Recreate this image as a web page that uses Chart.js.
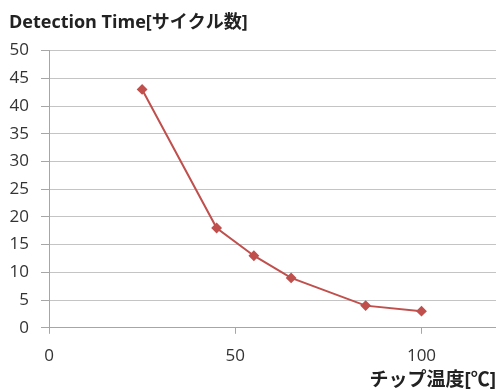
<!DOCTYPE html>
<html>
<head>
<meta charset="utf-8">
<script src="https://cdn.jsdelivr.net/npm/chart.js@4"></script>
<style>
  body { margin: 0; background: #fff; }
  #wrap { width: 496px; height: 390px; }
</style>
</head>
<body>
<div id="wrap"><canvas id="plot" width="496" height="390"></canvas></div>
<script>
const temps = [25, 45, 55, 65, 85, 100];
const cycles = [43, 18, 13, 9, 4, 3];
const titleText = "Detection Time[サイクル数]";
const xTitleText = "チップ温度[℃]";

const fontStack = "'Open Sans', 'Noto Sans CJK JP', sans-serif";

new Chart(document.getElementById("plot"), {
    type: "line",
    data: {
        datasets: [
            {
                data: temps.map((t, i) => ({ x: t, y: cycles[i] })),
                borderColor: "#c0504d",
                backgroundColor: "#c0504d",
                borderWidth: 2,
                pointStyle: "rectRot",
                pointRadius: 4,
                pointHoverRadius: 4,
                fill: false,
                tension: 0
            }
        ]
    },
    options: {
        responsive: false,
        animation: false,
        layout: { autoPadding: false, padding: { left: 9, right: 0, top: 6, bottom: 0 } },
        plugins: {
            legend: { display: false },
            tooltip: { enabled: false },
            title: {
                display: true,
                text: titleText,
                align: "start",
                color: "#222",
                font: { family: fontStack, size: 18, weight: "bold" },
                padding: { top: 6, bottom: 17 }
            }
        },
        scales: {
            x: {
                type: "linear",
                min: 0,
                max: 120,
                border: { color: "#a6a6a6", width: 1 },
                grid: { drawOnChartArea: false, drawTicks: true, tickLength: 6, color: "#a6a6a6" },
                ticks: {
                    stepSize: 50,
                    includeBounds: false,
                    color: "#333",
                    padding: 12,
                    font: { family: fontStack, size: 17 }
                },
                title: {
                    display: true,
                    text: xTitleText,
                    align: "end",
                    color: "#222",
                    padding: { top: -9, bottom: -2 },
                    font: { family: fontStack, size: 19, weight: "bold" }
                }
            },
            y: {
                type: "linear",
                min: 0,
                max: 50,
                border: { color: "#a6a6a6", width: 1 },
                grid: { color: "#c4c4c4", tickLength: 8, tickColor: "#a6a6a6" },
                ticks: {
                    stepSize: 5,
                    color: "#333",
                    padding: 12,
                    font: { family: fontStack, size: 17 }
                },
                afterFit(scale) { scale.width = 40; }
            }
        }
    }
});
</script>
</body>
</html>
